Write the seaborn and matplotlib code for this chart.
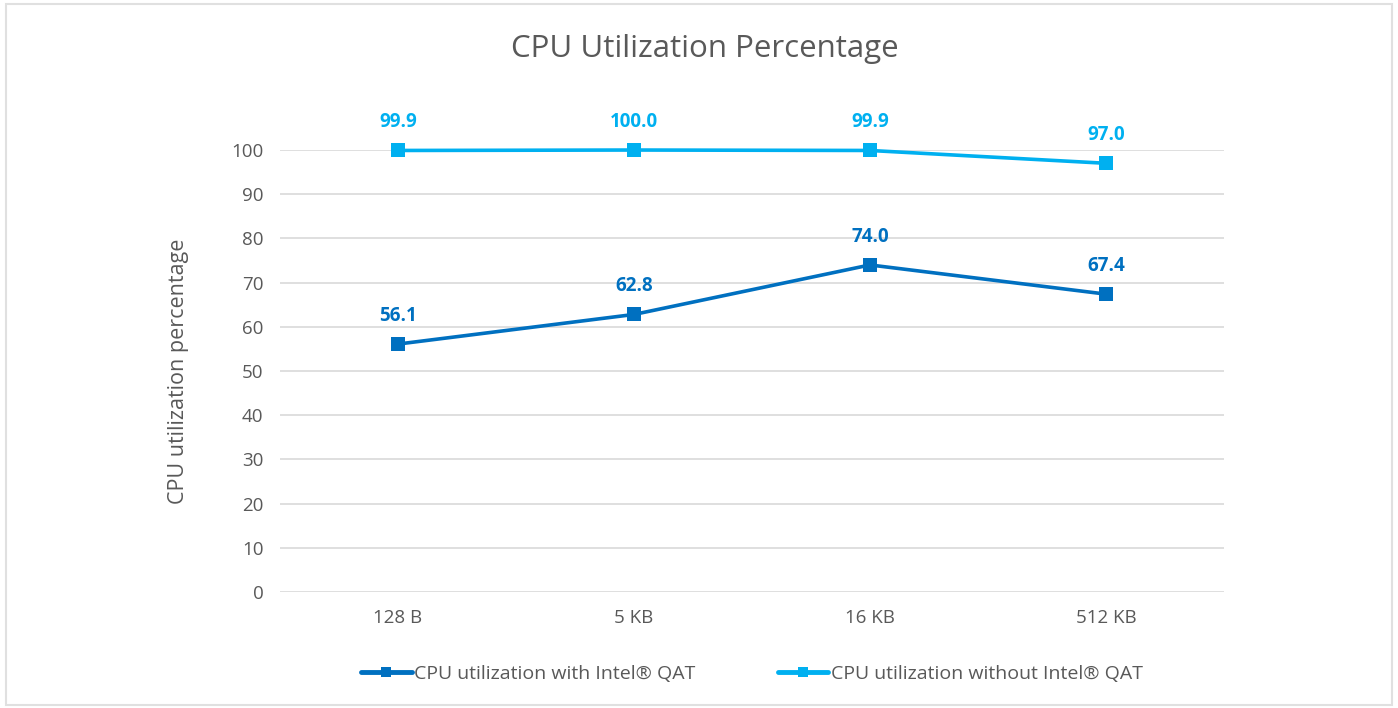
import matplotlib
matplotlib.use("Agg")
import matplotlib.pyplot as plt
import seaborn as sns
import pandas as pd
from matplotlib.patches import Rectangle
from matplotlib.lines import Line2D

categories = ["128 B", "5 KB", "16 KB", "512 KB"]
with_qat = [56.1, 62.8, 74.0, 67.4]
without_qat = [99.9, 100.0, 99.9, 97.0]
series_names = ["CPU utilization with Intel® QAT", "CPU utilization without Intel® QAT"]
colors = ["#0070C0", "#00B0F0"]
yticks = [0, 10, 20, 30, 40, 50, 60, 70, 80, 90, 100]

sns.set_theme(style="white")
plt.rcParams['font.family'] = ['Open Sans', 'DejaVu Sans']

df = pd.DataFrame({
    "size": categories * 2,
    "x": list(range(len(categories))) * 2,
    "value": with_qat + without_qat,
    "series": [series_names[0]] * 4 + [series_names[1]] * 4,
})

fig = plt.figure(figsize=(13.98, 7.08), dpi=100)
ax = fig.add_axes([0.2003, 0.1638, 0.6752, 0.6243])

sns.lineplot(data=df, x="x", y="value", hue="series", palette=colors,
             marker="s", markersize=10, linewidth=2.6, markeredgewidth=0,
             ax=ax, clip_on=False, legend=False)

ax.set_xlim(-0.5, 3.5)
ax.set_ylim(0, 100)
ax.set_yticks(yticks)
ax.set_xticks(range(len(categories)))
ax.set_xticklabels(categories)
ax.grid(axis="y", color="#D9D9D9", linewidth=1.2)
ax.grid(axis="x", visible=False)
for s in ax.spines.values():
    s.set_visible(False)
ax.tick_params(axis="both", length=0, labelsize=13.5, labelcolor="#595959", pad=12)
ax.set_xlabel("")
ax.set_ylabel("CPU utilization percentage", fontsize=15.5, color="#595959", labelpad=30)

for vals, c in zip([with_qat, without_qat], colors):
    for i, v in enumerate(vals):
        ax.annotate(f"{v:.1f}", (i, v), xytext=(0, 13), textcoords="offset points",
                    ha="center", va="bottom", fontsize=13.5, fontweight="bold", color=c)

fig.suptitle("CPU Utilization Percentage", x=0.504, y=0.952, fontsize=22.5, color="#595959")

handles = [Line2D([0], [0], color=c, linewidth=3.5, marker="s", markersize=7,
                  markeredgewidth=0) for c in colors]
leg = ax.legend(handles, series_names, loc="center", bbox_to_anchor=(0.5, -0.185), ncol=2,
                frameon=False, fontsize=14, handlelength=2.6, handletextpad=0.15,
                columnspacing=4.2)
for t in leg.get_texts():
    t.set_color("#595959")

fig.patches.append(Rectangle((0.004, 0.004), 0.992, 0.99, transform=fig.transFigure,
                             fill=False, edgecolor="#E0E0E0", linewidth=1.5))

fig.savefig("out.png", dpi=100)
